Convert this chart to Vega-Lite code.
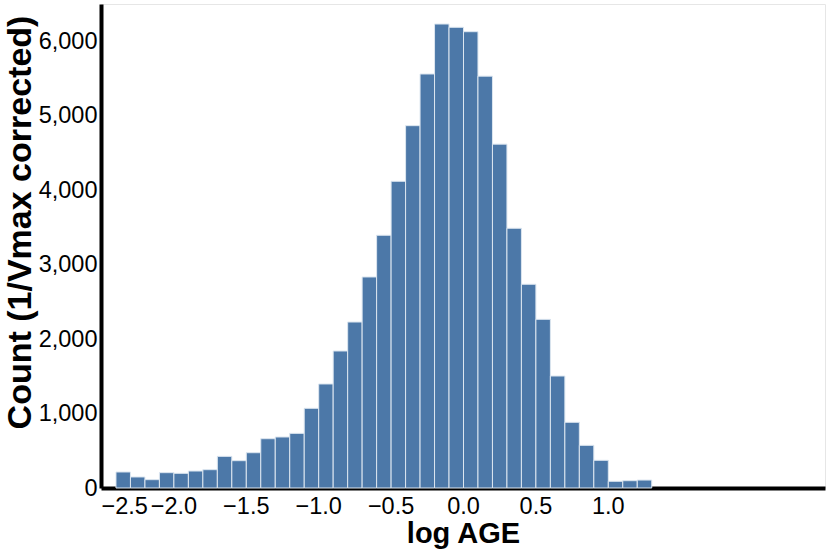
{
  "$schema": "https://vega.github.io/schema/vega-lite/v6.json",
  "width": 724,
  "height": 484,
  "autosize": {"type": "none"},
  "padding": {"left": 101, "top": 4, "right": 6, "bottom": 65},
  "config": {
    "font": "Liberation Sans",
    "view": {"stroke": "#e6e6e6"},
    "axis": {
      "domainColor": "black",
      "domainWidth": 4,
      "ticks": false,
      "grid": false,
      "labelFont": "Liberation Sans",
      "labelFontSize": 23.5,
      "labelColor": "black",
      "labelOverlap": false,
      "titleFont": "Liberation Sans",
      "titleFontWeight": "bold",
      "titleColor": "black"
    }
  },
  "data": {
    "values": [
      {"bin_start": -2.4, "bin_end": -2.3, "count": 215},
      {"bin_start": -2.3, "bin_end": -2.2, "count": 148},
      {"bin_start": -2.2, "bin_end": -2.1, "count": 112},
      {"bin_start": -2.1, "bin_end": -2.0, "count": 206},
      {"bin_start": -2.0, "bin_end": -1.9, "count": 197},
      {"bin_start": -1.9, "bin_end": -1.8, "count": 228},
      {"bin_start": -1.8, "bin_end": -1.7, "count": 246},
      {"bin_start": -1.7, "bin_end": -1.6, "count": 425},
      {"bin_start": -1.6, "bin_end": -1.5, "count": 367},
      {"bin_start": -1.5, "bin_end": -1.4, "count": 474},
      {"bin_start": -1.4, "bin_end": -1.3, "count": 662},
      {"bin_start": -1.3, "bin_end": -1.2, "count": 685},
      {"bin_start": -1.2, "bin_end": -1.1, "count": 734},
      {"bin_start": -1.1, "bin_end": -1.0, "count": 1070},
      {"bin_start": -1.0, "bin_end": -0.9, "count": 1397},
      {"bin_start": -0.9, "bin_end": -0.8, "count": 1840},
      {"bin_start": -0.8, "bin_end": -0.7, "count": 2229},
      {"bin_start": -0.7, "bin_end": -0.6, "count": 2834},
      {"bin_start": -0.6, "bin_end": -0.5, "count": 3394},
      {"bin_start": -0.5, "bin_end": -0.4, "count": 4119},
      {"bin_start": -0.4, "bin_end": -0.3, "count": 4866},
      {"bin_start": -0.3, "bin_end": -0.2, "count": 5560},
      {"bin_start": -0.2, "bin_end": -0.1, "count": 6231},
      {"bin_start": -0.1, "bin_end": 0.0, "count": 6187},
      {"bin_start": 0.0, "bin_end": 0.1, "count": 6128},
      {"bin_start": 0.1, "bin_end": 0.2, "count": 5531},
      {"bin_start": 0.2, "bin_end": 0.3, "count": 4618},
      {"bin_start": 0.3, "bin_end": 0.4, "count": 3488},
      {"bin_start": 0.4, "bin_end": 0.5, "count": 2736},
      {"bin_start": 0.5, "bin_end": 0.6, "count": 2265},
      {"bin_start": 0.6, "bin_end": 0.7, "count": 1504},
      {"bin_start": 0.7, "bin_end": 0.8, "count": 882},
      {"bin_start": 0.8, "bin_end": 0.9, "count": 573},
      {"bin_start": 0.9, "bin_end": 1.0, "count": 372},
      {"bin_start": 1.0, "bin_end": 1.1, "count": 90},
      {"bin_start": 1.1, "bin_end": 1.2, "count": 98},
      {"bin_start": 1.2, "bin_end": 1.3, "count": 107}
    ]
  },
  "mark": {
    "type": "bar",
    "color": "#4c78a8",
    "stroke": "#dce6f0",
    "strokeWidth": 1,
    "binSpacing": 0
  },
  "encoding": {
    "x": {
      "field": "bin_start",
      "type": "quantitative",
      "bin": "binned",
      "title": "log AGE",
      "scale": {"domain": [-2.5, 2.5], "nice": false, "zero": false},
      "axis": {
        "values": [-2.5, -2.0, -1.5, -1.0, -0.5, 0.0, 0.5, 1.0],
        "format": ".1f",
        "labelPadding": 6,
        "titleFontSize": 29,
        "titlePadding": 2
      }
    },
    "x2": {"field": "bin_end"},
    "y": {
      "field": "count",
      "type": "quantitative",
      "title": "Count (1/Vmax corrected)",
      "scale": {"domain": [0, 6500], "nice": false},
      "axis": {
        "values": [0, 1000, 2000, 3000, 4000, 5000, 6000],
        "labelPadding": 4,
        "titleFontSize": 34,
        "titleX": -64,
        "titleY": 218
      }
    }
  }
}
